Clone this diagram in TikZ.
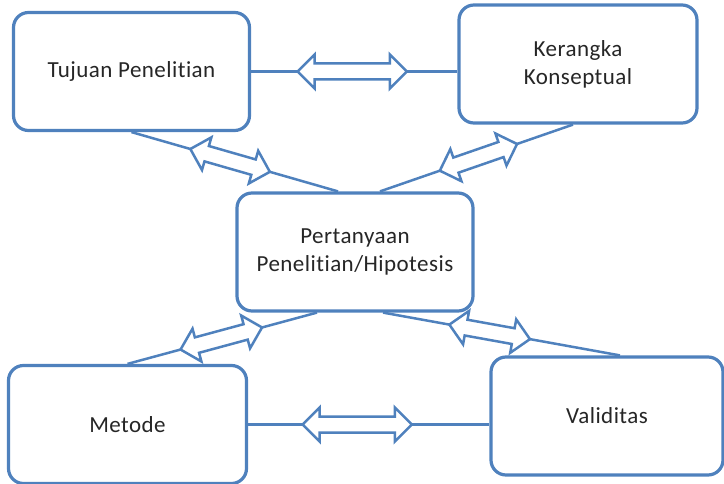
\documentclass[tikz,border=0pt]{standalone}
\usepackage{fontspec}
\setmainfont[Ligatures=NoCommon, LetterSpace=2]{Carlito}
\usetikzlibrary{calc}
\definecolor{boxblue}{HTML}{4F81BD}
\tikzset{
  topic/.style={draw=boxblue, line width=3.2pt, rounded corners=15pt, fill=white,
    minimum width=236pt, minimum height=118pt, align=center,
    font=\fontsize{23}{28}\selectfont, text=black!85},
  link/.style={draw=boxblue, line width=2.5pt},
  twoway/.style={draw=boxblue, line width=2.5pt, fill=white, line join=miter},
}
% hollow two-headed arrow laid on a link, between two fractions of it
\newcommand{\hollowarrow}[4]{%
  \coordinate (ha) at ($(#1)!#3!(#2)$);
  \coordinate (hb) at ($(#1)!#4!(#2)$);
  \filldraw[twoway] (ha)
    -- ($(ha)!17pt!(hb)!17pt!90:(hb)$)
    -- ($(ha)!17pt!(hb)!8pt!90:(hb)$)
    -- ($(hb)!17pt!(ha)!8pt!-90:(ha)$)
    -- ($(hb)!17pt!(ha)!17pt!-90:(ha)$)
    -- (hb)
    -- ($(hb)!17pt!(ha)!17pt!90:(ha)$)
    -- ($(hb)!17pt!(ha)!8pt!90:(ha)$)
    -- ($(ha)!17pt!(hb)!8pt!-90:(hb)$)
    -- ($(ha)!17pt!(hb)!17pt!-90:(hb)$)
    -- cycle;}
\begin{document}
\begin{tikzpicture}[x=1pt, y=-1pt]
\useasboundingbox (0,0) rectangle (724,484);

% the five boxes
\node [topic] (tuj) at (131.5,71.5) {Tujuan Penelitian};
\node [topic, minimum width=238pt] (ker) at (578,64) {Kerangka\\Konseptual};
\node [topic] (pert) at (355,252) {Pertanyaan\\Penelitian/Hipotesis};
\node [topic, minimum width=238pt] (met) at (127.5,424.5) {Metode};
\node [topic, minimum width=232pt] (val) at (607,416) {Validitas};

% end points of the links
\coordinate (tk) at (tuj.east -| ker.west);
\coordinate (mv) at (met.east -| val.west);
\coordinate (tp) at ([xshift=-17pt]pert.north);
\coordinate (kp) at ([xshift=25pt]pert.north);
\coordinate (mp) at ([xshift=-38pt]pert.south);
\coordinate (vp) at ([xshift=28pt]pert.south);
\coordinate (kb) at ([xshift=-5pt]ker.south);
\coordinate (vt) at ([xshift=13pt]val.north);

\draw [link] (tuj.east) -- (tk);
\draw [link] (met.east) -- (mv);
\draw [link] (tuj.south) -- (tp);
\draw [link] (kp) -- (kb);
\draw [link] (met.north) -- (mp);
\draw [link] (vp) -- (vt);

\hollowarrow{tuj.east}{tk}{.225}{.755}
\hollowarrow{met.east}{mv}{.226}{.679}
\hollowarrow{tuj.south}{tp}{.285}{.67}
\hollowarrow{kp}{kb}{.31}{.71}
\hollowarrow{met.north}{mp}{.28}{.71}
\hollowarrow{vp}{vt}{.28}{.62}

\end{tikzpicture}
\end{document}
